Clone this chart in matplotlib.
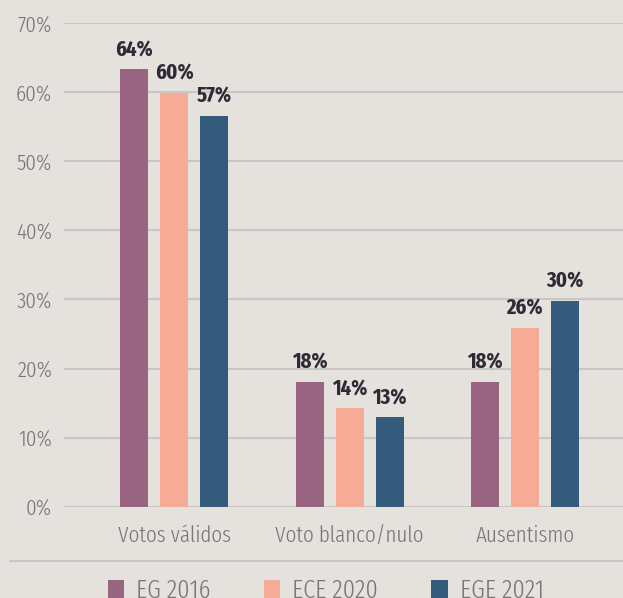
import numpy as np
import matplotlib.pyplot as plt
from matplotlib.patches import Patch
from matplotlib.lines import Line2D

# data
categories = ['Votos válidos', 'Voto blanco/nulo', 'Ausentismo']
series = ['EG 2016', 'ECE 2020', 'EGE 2021']
eg2016 = [63.3, 18.1, 18.1]
ece2020 = [59.9, 14.3, 25.9]
ege2021 = [56.6, 13.0, 29.8]
labels_eg2016 = ['64%', '18%', '18%']
labels_ece2020 = ['60%', '14%', '26%']
labels_ege2021 = ['57%', '13%', '30%']
yticks = [0, 10, 20, 30, 40, 50, 60, 70]
ytick_labels = ['0%', '10%', '20%', '30%', '40%', '50%', '60%', '70%']

colors = ['#98647f', '#f6ab94', '#345b7c']
bg = '#e5e1dd'
grid_col = '#c9c6c4'
txt_light = '#787574'
txt_dark = '#2e2b36'
FONT = ['Fira Sans Extra Condensed', 'DejaVu Sans']
plt.rcParams['font.family'] = FONT

fig = plt.figure(figsize=(6.23, 5.98), dpi=100, facecolor=bg)
ax = fig.add_axes([64 / 623, 91.3 / 598, 1 - 64 / 623, (506.7 - 23) / 598])
ax.set_facecolor(bg)

x = np.arange(len(categories))
width = 0.16
offset = 0.228
all_vals = [eg2016, ece2020, ege2021]
all_labels = [labels_eg2016, labels_ece2020, labels_ege2021]

for i, (vals, labs) in enumerate(zip(all_vals, all_labels)):
    pos = x + (i - 1) * offset
    bars = ax.bar(pos, vals, width, color=colors[i], zorder=3)
    for b, lab in zip(bars, labs):
        ax.annotate(lab, (b.get_x() + b.get_width() / 2, b.get_height()),
                    xytext=(0, 6), textcoords='offset points',
                    ha='center', va='bottom', fontsize=16, fontweight='bold',
                    color=txt_dark, zorder=4)

ax.set_ylim(0, 70)
ax.set_xlim(-0.63, 2.56)
ax.set_yticks(yticks)
ax.set_yticklabels(ytick_labels, fontweight=300)
ax.yaxis.grid(True, color=grid_col, linewidth=1.5, zorder=0)
ax.set_xticks(x)
ax.set_xticklabels(categories, fontweight=300)
ax.tick_params(axis='both', length=0, labelsize=16.5, colors=txt_light)
ax.tick_params(axis='y', pad=8.5)
ax.tick_params(axis='x', pad=13)
for s in ax.spines.values():
    s.set_visible(False)

# separator line above the legend
fig.add_artist(Line2D([10 / 623, 1], [1 - 560.7 / 598] * 2,
                      transform=fig.transFigure, color=grid_col, linewidth=1.5))

handles = [Patch(facecolor=c, edgecolor='none') for c in colors]
leg = fig.legend(handles, series, loc='upper left',
                 bbox_to_anchor=(97 / 623, 1 - 568 / 598), ncol=3,
                 frameon=False, handlelength=0.64,
                 handleheight=0.64, handletextpad=0.45, columnspacing=2.0,
                 borderaxespad=0, prop={'weight': 300, 'size': 19})
for t in leg.get_texts():
    t.set_color(txt_light)

fig.savefig('out.png', dpi=100, facecolor=bg)
